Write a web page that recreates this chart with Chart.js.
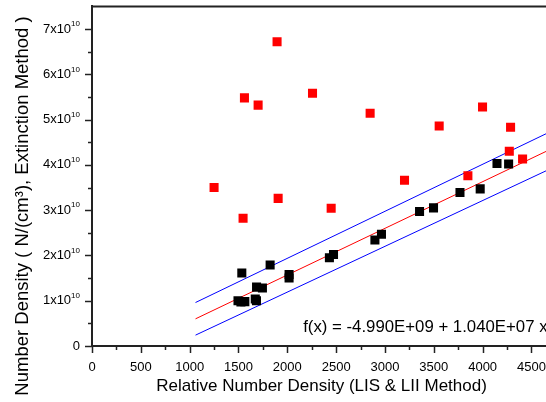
<!DOCTYPE html>
<html>
<head>
<meta charset="utf-8">
<script src="https://cdn.jsdelivr.net/npm/chart.js@4.4.0/dist/chart.umd.min.js"></script>
<style>
  html, body { margin: 0; padding: 0; background: #fff; overflow: hidden; }
  #wrap { position: relative; width: 570px; height: 402px; }
</style>
</head>
<body>
<div id="wrap"><canvas id="chart"></canvas></div>
<script>
// Extinction method vs LIS/LII number density, with linear fit and bands

// red squares
const redX = [1250, 1547, 1561, 1701, 1895, 1906, 2258, 2449, 2848, 3200, 3555, 3849, 3999, 4273, 4286, 4409];
const redY = [3.50e10, 2.82e10, 5.48e10, 5.32e10, 6.72e10, 3.26e10, 5.58e10, 3.04e10, 5.14e10, 3.66e10,
              4.86e10, 3.76e10, 5.28e10, 4.30e10, 4.83e10, 4.13e10];

// black squares
const blackX = [1495, 1525, 1565, 1672, 1684, 1534, 1824, 1685, 1745, 2018, 2018, 2431, 2473,
                2897, 2964, 3354, 3497, 3768, 3975, 4147, 4266];
const blackY = [1.00e10, 0.97e10, 0.98e10, 1.04e10, 1.00e10, 1.61e10, 1.79e10, 1.30e10, 1.28e10, 1.58e10, 1.50e10,
                1.95e10, 2.02e10, 2.34e10, 2.47e10, 2.97e10, 3.05e10, 3.39e10, 3.47e10, 4.03e10, 4.02e10];

// fit line and bands (end points)
const lineX = [1060, 4700];
const fitY = [0.60e10, 4.35e10];
const upperY = [0.96e10, 4.74e10];
const lowerY = [0.24e10, 3.92e10];

// ticks: labelled majors and the minor marks between them
const xTickValues = [0, 500, 1000, 1500, 2000, 2500, 3000, 3500, 4000, 4500];
const xMinorValues = [250, 750, 1250, 1750, 2250, 2750, 3250, 3750, 4250];
const yTickValues = [0, 1e10, 2e10, 3e10, 4e10, 5e10, 6e10, 7e10];
const yMinorValues = [0.5e10, 1.5e10, 2.5e10, 3.5e10, 4.5e10, 5.5e10, 6.5e10];
const yTickBase = ['0', '1x10', '2x10', '3x10', '4x10', '5x10', '6x10', '7x10'];
const yTickExp = ['', '10', '10', '10', '10', '10', '10', '10'];

const fitText = 'f(x) = -4.990E+09 + 1.040E+07 x';
const fitTextPos = { x: 2162, y: 0.416e10 };
const yTitle = 'Number Density ( N/(cm\u00B3), Extinction Method )';

const FONT = '"Liberation Sans", Arial, sans-serif';
const AXIS_COLOR = '#222';

function pts(xs, ys) {
    return xs.map((x, i) => ({ x: x, y: ys[i] }));
}

// tick marks, top frame, y labels, y title and the fit equation
const decorPlugin = {
    id: 'decor',
    afterDraw(chart) {
        const ctx = chart.ctx;
        const area = chart.chartArea;
        const xs = chart.scales.x;
        const ys = chart.scales.y;
        ctx.save();
        ctx.strokeStyle = AXIS_COLOR;
        ctx.lineWidth = 2;

        // top frame
        ctx.beginPath();
        ctx.moveTo(area.left - 1, area.top);
        ctx.lineTo(chart.width, area.top);
        ctx.stroke();

        ctx.lineWidth = 1.5;
        function xMark(v, len) {
            const px = Math.round(xs.getPixelForValue(v)) + 0.5;
            ctx.beginPath();
            ctx.moveTo(px, area.bottom);
            ctx.lineTo(px, area.bottom + len);
            ctx.stroke();
        }
        function yMark(v, len) {
            const py = Math.round(ys.getPixelForValue(v)) + 0.5;
            ctx.beginPath();
            ctx.moveTo(area.left, py);
            ctx.lineTo(area.left - len, py);
            ctx.stroke();
        }
        xTickValues.forEach(v => xMark(v, 7));
        xMinorValues.forEach(v => xMark(v, 4));
        yTickValues.forEach(v => yMark(v, 7));
        yMinorValues.forEach(v => yMark(v, 4));

        // y tick labels with superscript exponent
        ctx.fillStyle = '#000';
        ctx.textBaseline = 'middle';
        const right = area.left - 12;
        yTickValues.forEach((v, i) => {
            const py = ys.getPixelForValue(v);
            ctx.font = '8px ' + FONT;
            const expW = yTickExp[i] ? ctx.measureText(yTickExp[i]).width : 0;
            ctx.textAlign = 'right';
            if (yTickExp[i]) {
                ctx.fillText(yTickExp[i], right, py - 5);
            }
            ctx.font = '13px ' + FONT;
            ctx.fillText(yTickBase[i], right - expW, py);
        });

        // y axis title
        ctx.save();
        ctx.translate(23, 206);
        ctx.rotate(-Math.PI / 2);
        ctx.font = '18.5px ' + FONT;
        ctx.textAlign = 'center';
        ctx.textBaseline = 'middle';
        ctx.fillText(yTitle, 0, 0);
        ctx.restore();

        // fit equation
        ctx.font = '16.8px ' + FONT;
        ctx.textAlign = 'left';
        ctx.textBaseline = 'middle';
        ctx.fillText(fitText, xs.getPixelForValue(fitTextPos.x), ys.getPixelForValue(fitTextPos.y));

        ctx.restore();
    }
};

const lineStyle = { showLine: true, pointRadius: 0, borderWidth: 1, fill: false };

const chart = new Chart(document.getElementById('chart'), {
    type: 'scatter',
    data: {
        datasets: [
            {
                label: 'Extinction',
                data: pts(redX, redY),
                pointStyle: 'rect',
                pointRadius: 6.4,
                pointBorderWidth: 0,
                backgroundColor: '#ff0000',
                order: 1
            },
            {
                label: 'Corrected',
                data: pts(blackX, blackY),
                pointStyle: 'rect',
                pointRadius: 6.4,
                pointBorderWidth: 0,
                backgroundColor: '#000000',
                order: 1
            },
            Object.assign({ label: 'Fit', data: pts(lineX, fitY), borderColor: '#ff0000', order: 2 }, lineStyle),
            Object.assign({ label: 'Upper', data: pts(lineX, upperY), borderColor: '#0000ff', order: 2 }, lineStyle),
            Object.assign({ label: 'Lower', data: pts(lineX, lowerY), borderColor: '#0000ff', order: 2 }, lineStyle)
        ]
    },
    options: {
        responsive: true,
        maintainAspectRatio: false,
        animation: false,
        layout: {
            padding: { top: 3, right: 19, left: 0, bottom: 0 }
        },
        plugins: {
            legend: { display: false },
            tooltip: { enabled: false }
        },
        scales: {
            x: {
                type: 'linear',
                min: 0,
                max: 4700,
                afterBuildTicks: function(scale) {
                    scale.ticks = xTickValues.map(v => ({ value: v }));
                },
                afterFit: function(scale) { scale.height = 56; },
                grid: { display: true, drawOnChartArea: false, drawTicks: false },
                border: { display: true, color: AXIS_COLOR, width: 2 },
                ticks: {
                    autoSkip: false,
                    maxRotation: 0,
                    padding: 14,
                    color: '#000',
                    font: { family: FONT, size: 13 },
                    callback: function(value) { return String(value); }
                },
                title: {
                    display: true,
                    text: 'Relative Number Density (LIS & LII Method)',
                    color: '#000',
                    font: { family: FONT, size: 17 },
                    padding: { top: 0, bottom: 5 }
                }
            },
            y: {
                type: 'linear',
                min: 0,
                max: 7.5e10,
                afterBuildTicks: function(scale) {
                    scale.ticks = yTickValues.map(v => ({ value: v }));
                },
                afterFit: function(scale) { scale.width = 92; },
                grid: { display: true, drawOnChartArea: false, drawTicks: false },
                border: { display: true, color: AXIS_COLOR, width: 2 },
                ticks: { display: false }
            }
        }
    },
    plugins: [decorPlugin]
});
</script>
</body>
</html>
